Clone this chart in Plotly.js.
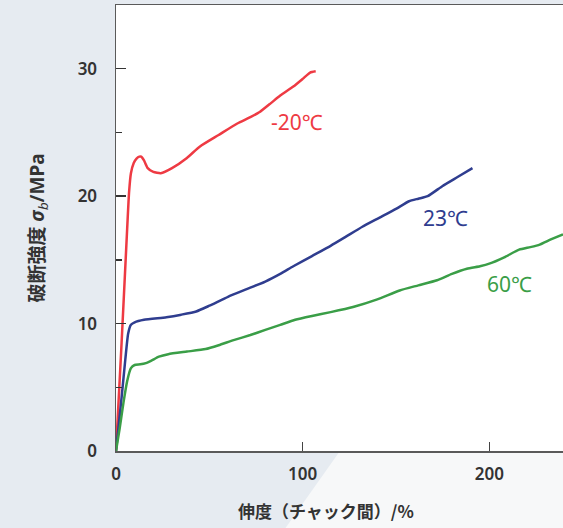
<!DOCTYPE html>
<html>
<head>
<meta charset="utf-8">
<script src="https://cdn.plot.ly/plotly-3.0.1.min.js"></script>
<style>html,body{margin:0;padding:0;background:#e6ebf1;}#chart{width:563px;height:528px;}</style>
</head>
<body>
<div id="chart"></div>
<script>
// -20°C
const redX = [0, 3, 6, 7, 8, 9.5, 11, 12.5, 13.5, 15, 17, 20, 24, 30, 38, 45, 55, 65, 72, 77, 83, 88, 95, 100, 104, 107];
const redY = [0, 8.5, 17.5, 20.3, 21.8, 22.6, 22.95, 23.1, 23.1, 22.8, 22.2, 21.9, 21.8, 22.2, 23.0, 23.9, 24.8, 25.7, 26.2, 26.6, 27.3, 27.9, 28.6, 29.2, 29.7, 29.8];
// 23°C
const blueX = [0, 3, 5, 6.5, 8, 10, 15, 27, 35, 43, 50, 60, 70, 80, 88, 95, 105, 115, 123, 132, 141, 150, 157, 162, 167, 175, 183, 191];
const blueY = [0, 4.2, 7.2, 9.2, 9.9, 10.1, 10.3, 10.5, 10.7, 10.95, 11.4, 12.1, 12.7, 13.3, 13.9, 14.5, 15.3, 16.1, 16.8, 17.6, 18.3, 19.0, 19.6, 19.8, 20.0, 20.8, 21.5, 22.2];
// 60°C
const greenX = [0, 2, 4, 6, 8, 10, 13, 16, 19, 23, 28, 38, 48, 55, 63, 72, 80, 88, 96, 105, 115, 127, 140, 152, 162, 172, 180, 188, 195, 200, 208, 216, 222, 227, 233, 239.5];
const greenY = [0, 1.8, 3.8, 5.5, 6.5, 6.75, 6.8, 6.9, 7.1, 7.4, 7.6, 7.8, 8.0, 8.3, 8.7, 9.1, 9.5, 9.9, 10.3, 10.6, 10.9, 11.3, 11.9, 12.6, 13.0, 13.4, 13.9, 14.3, 14.5, 14.7, 15.2, 15.8, 16.0, 16.2, 16.6, 17.0];

const seriesNames = ['-20℃', '23℃', '60℃'];
const labelX = [97, 176.5, 211];
const labelY = [25.8, 18.3, 13.1];
const colors = ['#ee3a43', '#2f3d8f', '#3a9e47'];

const xTickVals = [0, 100, 200];
const yTickVals = [0, 10, 20, 30];

const traces = [[redX, redY], [blueX, blueY], [greenX, greenY]].map((d, i) => ({
  x: d[0], y: d[1], type: 'scatter', mode: 'lines', name: seriesNames[i],
  line: {color: colors[i], width: 2.5, shape: 'spline', smoothing: 0.5},
  hoverinfo: 'skip'
}));

const labelAnns = seriesNames.map((t, i) => ({
  x: labelX[i], y: labelY[i], xref: 'x', yref: 'y', text: t, showarrow: false,
  font: {family: 'Noto Sans, Noto Sans CJK JP', size: 21, color: colors[i]}
}));

const layout = {
  width: 563, height: 528,
  margin: {l: 116, r: 0, t: 5, b: 77},
  paper_bgcolor: '#e6ebf1',
  plot_bgcolor: '#ffffff',
  showlegend: false,
  font: {family: 'Noto Sans, Noto Sans CJK JP', color: '#333333'},
  xaxis: {
    range: [0, 239.5], showgrid: false, zeroline: false,
    showline: true, linecolor: '#5a5a5a', linewidth: 1.5, mirror: true,
    ticks: 'inside', ticklen: 9, tickwidth: 1.5, tickcolor: '#444',
    tickvals: xTickVals, ticktext: xTickVals.map(String),
    tickfont: {size: 17, color: '#333', weight: 600}, ticklabelstandoff: 7
  },
  yaxis: {
    range: [0, 35], showgrid: false, zeroline: false,
    showline: true, linecolor: '#5a5a5a', linewidth: 1.5,
    ticks: 'inside', ticklen: 10, tickwidth: 1.5, tickcolor: '#333',
    tickvals: yTickVals, ticktext: yTickVals.map(String),
    tickfont: {size: 17, color: '#333', weight: 600}, ticklabelstandoff: 14,
    minor: {ticks: 'inside', ticklen: 6, tickwidth: 1.5, tickcolor: '#333', dtick: 5, tick0: 5},
    title: {text: '<b>破断強度 </b><b><i>σ</i></b><i><sub>b</sub></i><b>/MPa</b>', font: {size: 19, color: '#333'}, standoff: 28}
  },
  shapes: [{
    type: 'path', xref: 'paper', yref: 'paper', layer: 'below',
    path: 'M 0.501,0 L 1.01,0 L 1.01,-0.18 L 0.374,-0.18 Z',
    fillcolor: '#f7f8f9', line: {width: 0}
  }],
  annotations: labelAnns.concat([{
    xref: 'paper', yref: 'paper', x: 0.47, y: -0.133, xanchor: 'center', yanchor: 'middle',
    text: '<b>伸度（チャック間）/%</b>', showarrow: false,
    font: {family: 'Noto Sans CJK JP', size: 17, color: '#333'}
  }])
};

Plotly.newPlot('chart', traces, layout, {displayModeBar: false, staticPlot: true});
</script>
</body>
</html>
